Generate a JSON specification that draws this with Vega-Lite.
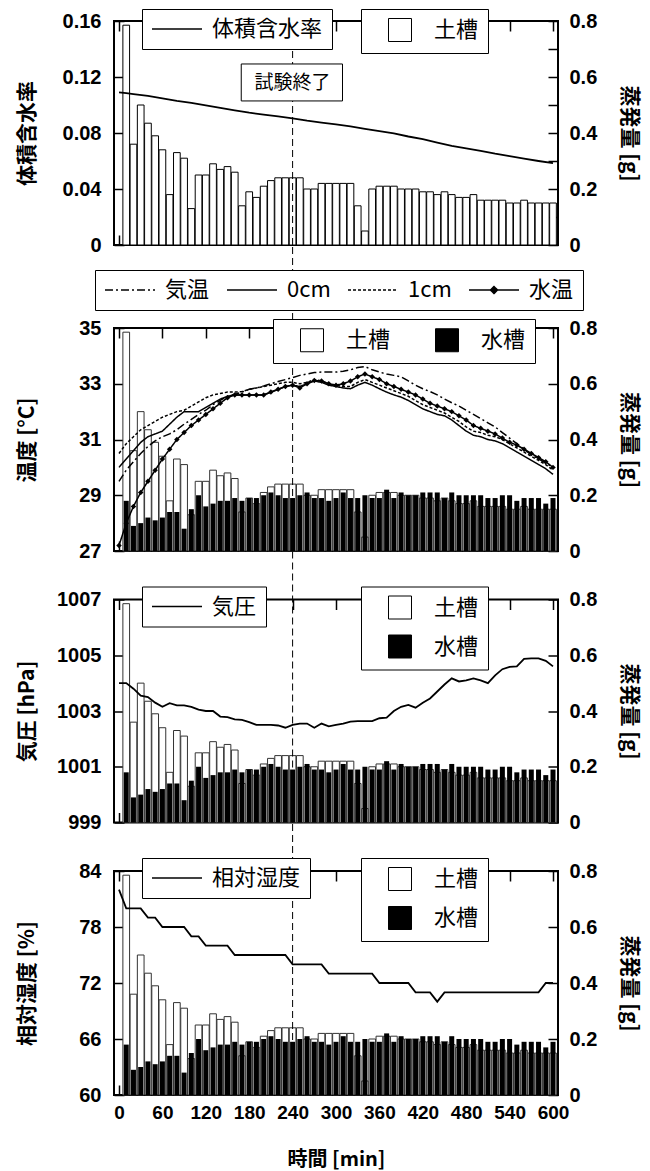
{
"$schema":"https://vega.github.io/schema/vega-lite/v6.json",
"padding":{"left":14,"top":7,"right":5,"bottom":0},
"datasets":{
"evap":[{"t":10,"soil":0.785,"water":0.18},{"t":20,"soil":0.36,"water":0.09},{"t":30,"soil":0.5,"water":0.1},{"t":40,"soil":0.435,"water":0.12},{"t":50,"soil":0.39,"water":0.11},{"t":60,"soil":0.34,"water":0.12},{"t":70,"soil":0.18,"water":0.14},{"t":80,"soil":0.33,"water":0.14},{"t":90,"soil":0.31,"water":0.08},{"t":100,"soil":0.13,"water":0.15},{"t":110,"soil":0.25,"water":0.2},{"t":120,"soil":0.25,"water":0.16},{"t":130,"soil":0.29,"water":0.17},{"t":140,"soil":0.27,"water":0.18},{"t":150,"soil":0.28,"water":0.18},{"t":160,"soil":0.26,"water":0.19},{"t":170,"soil":0.14,"water":0.18},{"t":180,"soil":0.19,"water":0.19},{"t":190,"soil":0.17,"water":0.19},{"t":200,"soil":0.21,"water":0.2},{"t":210,"soil":0.23,"water":0.21},{"t":220,"soil":0.24,"water":0.2},{"t":230,"soil":0.24,"water":0.19},{"t":240,"soil":0.24,"water":0.19},{"t":250,"soil":0.24,"water":0.2},{"t":260,"soil":0.2,"water":0.21},{"t":270,"soil":0.2,"water":0.19},{"t":280,"soil":0.22,"water":0.19},{"t":290,"soil":0.22,"water":0.18},{"t":300,"soil":0.22,"water":0.19},{"t":310,"soil":0.22,"water":0.21},{"t":320,"soil":0.22,"water":0.19},{"t":330,"soil":0.14,"water":0.19},{"t":340,"soil":0.05,"water":0.2},{"t":350,"soil":0.2,"water":0.19},{"t":360,"soil":0.21,"water":0.19},{"t":370,"soil":0.21,"water":0.22},{"t":380,"soil":0.21,"water":0.19},{"t":390,"soil":0.2,"water":0.21},{"t":400,"soil":0.2,"water":0.2},{"t":410,"soil":0.2,"water":0.2},{"t":420,"soil":0.19,"water":0.21},{"t":430,"soil":0.19,"water":0.21},{"t":440,"soil":0.18,"water":0.21},{"t":450,"soil":0.19,"water":0.19},{"t":460,"soil":0.18,"water":0.21},{"t":470,"soil":0.17,"water":0.2},{"t":480,"soil":0.17,"water":0.2},{"t":490,"soil":0.18,"water":0.2},{"t":500,"soil":0.16,"water":0.2},{"t":510,"soil":0.16,"water":0.19},{"t":520,"soil":0.16,"water":0.19},{"t":530,"soil":0.16,"water":0.2},{"t":540,"soil":0.15,"water":0.2},{"t":550,"soil":0.15,"water":0.18},{"t":560,"soil":0.16,"water":0.19},{"t":570,"soil":0.15,"water":0.19},{"t":580,"soil":0.15,"water":0.19},{"t":590,"soil":0.15,"water":0.17},{"t":600,"soil":0.15,"water":0.19}],
"vwc":[{"t":0,"v":0.109},{"t":10,"v":0.1085},{"t":20,"v":0.1078},{"t":40,"v":0.1065},{"t":60,"v":0.1048},{"t":80,"v":0.103},{"t":100,"v":0.1015},{"t":120,"v":0.0997},{"t":140,"v":0.0979},{"t":160,"v":0.0962},{"t":180,"v":0.0945},{"t":200,"v":0.0932},{"t":220,"v":0.0918},{"t":240,"v":0.0905},{"t":260,"v":0.0888},{"t":280,"v":0.0874},{"t":300,"v":0.0862},{"t":320,"v":0.0847},{"t":340,"v":0.083},{"t":360,"v":0.0813},{"t":380,"v":0.0798},{"t":400,"v":0.0775},{"t":420,"v":0.0756},{"t":440,"v":0.0732},{"t":460,"v":0.0708},{"t":480,"v":0.069},{"t":500,"v":0.0672},{"t":520,"v":0.0652},{"t":540,"v":0.0635},{"t":560,"v":0.0617},{"t":580,"v":0.06},{"t":600,"v":0.0585}],
"temps":[
{"t":0,"気温":29.5,"0cm":30.0,"1cm":30.5,"水温":27.2},
{"t":10,"気温":29.9,"0cm":30.3,"1cm":30.85,"水温":28.0},
{"t":20,"気温":30.2,"0cm":30.6,"1cm":31.1,"水温":28.6},
{"t":30,"気温":30.5,"0cm":30.9,"1cm":31.35,"水温":29.1},
{"t":40,"気温":30.75,"0cm":31.1,"1cm":31.5,"水温":29.5},
{"t":50,"気温":30.95,"0cm":31.2,"1cm":31.65,"水温":29.9},
{"t":60,"気温":31.1,"0cm":31.3,"1cm":31.8,"水温":30.3},
{"t":70,"気温":31.2,"0cm":31.55,"1cm":31.9,"水温":30.65},
{"t":80,"気温":31.35,"0cm":31.8,"1cm":32.0,"水温":31.0},
{"t":90,"気温":31.55,"0cm":32.0,"1cm":32.05,"水温":31.25},
{"t":100,"気温":31.72,"0cm":32.0,"1cm":32.2,"水温":31.5},
{"t":110,"気温":31.9,"0cm":32.0,"1cm":32.35,"水温":31.7},
{"t":120,"気温":32.05,"0cm":32.15,"1cm":32.5,"水温":31.9},
{"t":130,"気温":32.25,"0cm":32.3,"1cm":32.6,"水温":32.1},
{"t":140,"気温":32.4,"0cm":32.45,"1cm":32.65,"水温":32.3},
{"t":150,"気温":32.55,"0cm":32.55,"1cm":32.7,"水温":32.5},
{"t":160,"気温":32.62,"0cm":32.6,"1cm":32.7,"水温":32.6},
{"t":170,"気温":32.7,"0cm":32.6,"1cm":32.72,"水温":32.6},
{"t":180,"気温":32.8,"0cm":32.6,"1cm":32.8,"水温":32.6},
{"t":190,"気温":32.85,"0cm":32.6,"1cm":32.85,"水温":32.6},
{"t":200,"気温":32.92,"0cm":32.6,"1cm":32.9,"水温":32.6},
{"t":210,"気温":33.0,"0cm":32.7,"1cm":32.95,"水温":32.7},
{"t":220,"気温":33.08,"0cm":32.8,"1cm":33.0,"水温":32.8},
{"t":230,"気温":33.15,"0cm":32.9,"1cm":33.05,"水温":32.9},
{"t":240,"気温":33.22,"0cm":32.95,"1cm":33.05,"水温":32.95},
{"t":250,"気温":33.3,"0cm":32.9,"1cm":33.0,"水温":32.85},
{"t":260,"気温":33.35,"0cm":33.0,"1cm":33.05,"水温":33.0},
{"t":270,"気温":33.4,"0cm":33.1,"1cm":33.15,"水温":33.12},
{"t":280,"気温":33.42,"0cm":33.05,"1cm":33.1,"水温":33.1},
{"t":290,"気温":33.42,"0cm":32.95,"1cm":33.0,"水温":33.0},
{"t":300,"気温":33.42,"0cm":32.9,"1cm":32.95,"水温":32.95},
{"t":310,"気温":33.45,"0cm":32.85,"1cm":32.9,"水温":33.0},
{"t":320,"気温":33.5,"0cm":32.82,"1cm":32.9,"水温":33.1},
{"t":330,"気温":33.58,"0cm":32.95,"1cm":33.05,"水温":33.25},
{"t":340,"気温":33.62,"0cm":33.05,"1cm":33.15,"水温":33.35},
{"t":350,"気温":33.5,"0cm":32.95,"1cm":33.05,"水温":33.25},
{"t":360,"気温":33.42,"0cm":32.82,"1cm":32.95,"水温":33.15},
{"t":370,"気温":33.35,"0cm":32.7,"1cm":32.85,"水温":33.0},
{"t":380,"気温":33.3,"0cm":32.6,"1cm":32.75,"水温":32.9},
{"t":390,"気温":33.25,"0cm":32.52,"1cm":32.65,"水温":32.8},
{"t":400,"気温":33.1,"0cm":32.4,"1cm":32.55,"水温":32.7},
{"t":410,"気温":32.95,"0cm":32.25,"1cm":32.4,"水温":32.6},
{"t":420,"気温":32.82,"0cm":32.1,"1cm":32.25,"水温":32.45},
{"t":430,"気温":32.72,"0cm":32.0,"1cm":32.15,"水温":32.3},
{"t":440,"気温":32.6,"0cm":31.9,"1cm":32.05,"水温":32.2},
{"t":450,"気温":32.45,"0cm":31.85,"1cm":31.95,"水温":32.1},
{"t":460,"気温":32.32,"0cm":31.7,"1cm":31.8,"水温":32.0},
{"t":470,"気温":32.2,"0cm":31.5,"1cm":31.65,"水温":31.85},
{"t":480,"気温":32.05,"0cm":31.3,"1cm":31.45,"水温":31.7},
{"t":490,"気温":31.9,"0cm":31.15,"1cm":31.3,"水温":31.5},
{"t":500,"気温":31.75,"0cm":31.1,"1cm":31.25,"水温":31.4},
{"t":510,"気温":31.6,"0cm":31.0,"1cm":31.15,"水温":31.3},
{"t":520,"気温":31.45,"0cm":30.95,"1cm":31.1,"水温":31.2},
{"t":530,"気温":31.25,"0cm":30.85,"1cm":31.0,"水温":31.05},
{"t":540,"気温":31.05,"0cm":30.7,"1cm":30.85,"水温":30.9},
{"t":550,"気温":30.85,"0cm":30.55,"1cm":30.7,"水温":30.8},
{"t":560,"気温":30.65,"0cm":30.4,"1cm":30.55,"水温":30.65},
{"t":570,"気温":30.45,"0cm":30.25,"1cm":30.4,"水温":30.5},
{"t":580,"気温":30.3,"0cm":30.1,"1cm":30.25,"水温":30.35},
{"t":590,"気温":30.15,"0cm":29.95,"1cm":30.1,"水温":30.2},
{"t":600,"気温":30.0,"0cm":29.75,"1cm":29.9,"水温":30.0}],
"pres":[{"t":0,"p":1004.0},{"t":10,"p":1004.0},{"t":20,"p":1003.8},{"t":30,"p":1003.55},{"t":40,"p":1003.5},{"t":50,"p":1003.3},{"t":60,"p":1003.15},{"t":70,"p":1003.28},{"t":80,"p":1003.2},{"t":90,"p":1003.2},{"t":100,"p":1003.15},{"t":110,"p":1003.05},{"t":120,"p":1003.0},{"t":130,"p":1003.0},{"t":140,"p":1002.8},{"t":150,"p":1002.78},{"t":160,"p":1002.7},{"t":170,"p":1002.68},{"t":180,"p":1002.6},{"t":190,"p":1002.5},{"t":200,"p":1002.5},{"t":210,"p":1002.5},{"t":220,"p":1002.48},{"t":230,"p":1002.4},{"t":240,"p":1002.5},{"t":250,"p":1002.55},{"t":260,"p":1002.55},{"t":270,"p":1002.4},{"t":280,"p":1002.55},{"t":290,"p":1002.45},{"t":300,"p":1002.5},{"t":310,"p":1002.55},{"t":320,"p":1002.62},{"t":330,"p":1002.64},{"t":340,"p":1002.64},{"t":350,"p":1002.64},{"t":360,"p":1002.74},{"t":370,"p":1002.76},{"t":380,"p":1003.0},{"t":390,"p":1003.15},{"t":400,"p":1003.22},{"t":410,"p":1003.12},{"t":420,"p":1003.3},{"t":430,"p":1003.45},{"t":440,"p":1003.7},{"t":450,"p":1003.95},{"t":460,"p":1004.17},{"t":470,"p":1004.06},{"t":480,"p":1004.1},{"t":490,"p":1004.17},{"t":500,"p":1004.1},{"t":510,"p":1004.0},{"t":520,"p":1004.28},{"t":530,"p":1004.5},{"t":540,"p":1004.58},{"t":550,"p":1004.6},{"t":560,"p":1004.87},{"t":570,"p":1004.89},{"t":580,"p":1004.89},{"t":590,"p":1004.8},{"t":600,"p":1004.6}],
"rh":[{"t":0,"h":82},{"t":10,"h":80},{"t":20,"h":80},{"t":30,"h":80},{"t":40,"h":79},{"t":50,"h":79},{"t":60,"h":78},{"t":70,"h":78},{"t":80,"h":78},{"t":90,"h":78},{"t":100,"h":77},{"t":110,"h":77},{"t":120,"h":76},{"t":130,"h":76},{"t":140,"h":76},{"t":150,"h":76},{"t":160,"h":75},{"t":170,"h":75},{"t":180,"h":75},{"t":190,"h":75},{"t":200,"h":75},{"t":210,"h":75},{"t":220,"h":75},{"t":230,"h":75},{"t":240,"h":74},{"t":250,"h":74},{"t":260,"h":74},{"t":270,"h":74},{"t":280,"h":74},{"t":290,"h":73},{"t":300,"h":73},{"t":310,"h":73},{"t":320,"h":73},{"t":330,"h":73},{"t":340,"h":73},{"t":350,"h":73},{"t":360,"h":72},{"t":370,"h":72},{"t":380,"h":72},{"t":390,"h":72},{"t":400,"h":72},{"t":410,"h":71},{"t":420,"h":71},{"t":430,"h":71},{"t":440,"h":70},{"t":450,"h":71},{"t":460,"h":71},{"t":470,"h":71},{"t":480,"h":71},{"t":490,"h":71},{"t":500,"h":71},{"t":510,"h":71},{"t":520,"h":71},{"t":530,"h":71},{"t":540,"h":71},{"t":550,"h":71},{"t":560,"h":71},{"t":570,"h":71},{"t":580,"h":71},{"t":590,"h":72},{"t":600,"h":72}]
},
"bounds":"flush",
"spacing":83,
"resolve":{"scale":{"fill":"independent","stroke":"independent","shape":"independent","strokeDash":"independent"}},
"vconcat":[
{
"width":444,"height":224,
"layer":[
 {"data":{"name":"evap"},
  "mark":{"type":"bar","width":6.7,"stroke":"black","strokeWidth":1},
  "encoding":{
   "x":{"field":"t","type":"quantitative","scale":{"domain":[0,600],"nice":false},"axis":{"values":[0,60,120,180,240,300,360,420,480,540,600],"labels":false,"title":null}},
   "y":{"field":"soil","type":"quantitative","scale":{"domain":[0,0.8]},"axis":{"orient":"right","values":[0,0.1,0.2,0.3,0.4,0.5,0.6,0.7,0.8],"labelExpr":"round(datum.value*10)%2==0 ? format(datum.value,'.1~f') : ''","labelPadding":21,"title":"蒸発量 [g]","titleX":70,"titleBaseline":"middle","titleAngle":90}},
   "fill":{"datum":"土槽","scale":{"domain":["土槽"],"range":["white"]},"legend":{"title":null,"orient":"none","legendX":247,"legendY":-12,"zindex":1,"symbolType":"square","symbolSize":529,"symbolStrokeColor":"black","symbolStrokeWidth":1,"symbolOffset":18,"labelOffset":22,"padding":9,"labelExpr":"datum.label + '\u2002\u2009'"}}
  }},
 {"encoding":{"x":{"field":"t","type":"quantitative","scale":{"domain":[0,600],"nice":false},"axis":{"orient":"top","values":[0,60,120,180,240,300,360,420,480,540,600],"labels":false,"title":null}}},
  "layer":[
   {"data":{"name":"vwc"},"mark":{"type":"line","strokeWidth":1.8},
    "encoding":{"y":{"field":"v","type":"quantitative","scale":{"domain":[0,0.16]},"axis":{"orient":"left","values":[0,0.02,0.04,0.06,0.08,0.1,0.12,0.14,0.16],"labelExpr":"round(datum.value*50)%2==0 ? format(datum.value,'.2~f') : ''","labelPadding":23,"title":"体積含水率","titleX":-87,"titleBaseline":"middle"}},
     "stroke":{"datum":"体積含水率","scale":{"range":["black"]},"legend":{"title":null,"orient":"none","legendX":28,"legendY":-12,"zindex":1,"symbolType":"M-1,0H4","symbolSize":400,"symbolStrokeWidth":1.5,"symbolStrokeColor":"black","labelOffset":39,"padding":9,"labelExpr":"datum.label + '\u2009'"}}}},
   {"data":{"name":"evap"},"transform":[{"filter":"datum.t == 240"}],"mark":{"type":"rule","strokeDash":[7,4],"strokeWidth":1,"color":"black"},
    "encoding":{"x":{"datum":240},"y":{"datum":0,"scale":{"domain":[0,0.16]}},"y2":{"datum":0.1386}}},
   {"data":{"name":"evap"},"transform":[{"filter":"datum.t == 240"}],"mark":{"type":"rect","fill":"white","stroke":"black","strokeWidth":1},
    "encoding":{"x":{"datum":169},"x2":{"datum":309},"y":{"datum":0.1293,"scale":{"domain":[0,0.16]}},"y2":{"datum":0.1029}}},
   {"data":{"name":"evap"},"transform":[{"filter":"datum.t == 240"}],"mark":{"type":"text","font":"Noto Sans CJK JP","fontSize":19,"color":"black"},
    "encoding":{"x":{"datum":240},"y":{"datum":0.116,"scale":{"domain":[0,0.16]}},"text":{"value":"試験終了"}}}
  ]}
],
"resolve":{"scale":{"y":"independent"},"axis":{"x":"independent","y":"independent"}}
},
{
"bounds":"flush",
"spacing":48.5,
"resolve":{"scale":{"fill":"independent","stroke":"independent","shape":"independent","strokeDash":"independent"}},
"vconcat":[
{
"width":444,"height":223,
"layer":[
 {"data":{"name":"evap"},
  "encoding":{"x":{"field":"t","type":"quantitative","scale":{"domain":[0,600],"nice":false},"axis":{"values":[0,60,120,180,240,300,360,420,480,540,600],"labels":false,"title":null}}},
  "layer":[
   {"mark":{"type":"bar","width":6.7,"stroke":"#333","strokeWidth":1},
    "encoding":{"y":{"field":"soil","type":"quantitative","scale":{"domain":[0,0.8]},"axis":{"orient":"right","values":[0,0.1,0.2,0.3,0.4,0.5,0.6,0.7,0.8],"labelExpr":"round(datum.value*10)%2==0 ? format(datum.value,'.1~f') : ''","labelPadding":21,"title":"蒸発量 [g]","titleX":70,"titleBaseline":"middle","titleAngle":90}},
     "fill":{"datum":"土槽","scale":{"domain":["土槽","水槽"],"range":["white","black"]},"legend":{"title":null,"orient":"none","direction":"horizontal","legendX":159,"legendY":-9,"zindex":1,"symbolType":"square","symbolSize":529,"symbolStrokeColor":"black","symbolStrokeWidth":1,"symbolOffset":18,"labelOffset":22,"columnPadding":26,"padding":9}}}},
   {"mark":{"type":"bar","width":5,"color":"black"},
    "encoding":{"y":{"field":"water","type":"quantitative"},"fill":{"datum":"水槽"}}}
  ]},
 {"encoding":{"x":{"field":"t","type":"quantitative","scale":{"domain":[0,600],"nice":false},"axis":{"orient":"top","values":[0,60,120,180,240,300,360,420,480,540,600],"labels":false,"title":null}}},
  "layer":[
   {"data":{"name":"evap"},"transform":[{"filter":"datum.t == 240"}],"mark":{"type":"rule","strokeDash":[7,4],"strokeWidth":1,"color":"black"},
    "encoding":{"x":{"datum":240},"y":{"datum":27,"scale":{"domain":[27,35]}},"y2":{"datum":37.98}}},
   {"data":{"name":"temps"},"transform":[{"fold":["気温","0cm","1cm","水温"],"as":["series","temp"]}],
    "mark":{"type":"line","strokeWidth":1.5,"color":"black"},
    "encoding":{"y":{"field":"temp","type":"quantitative","scale":{"domain":[27,35]},"axis":{"orient":"left","values":[27,28,29,30,31,32,33,34,35],"labelExpr":"datum.value%2==1 ? datum.label : ''","labelPadding":23,"title":"温度 [°C]","titleX":-87,"titleBaseline":"middle"}},
     "strokeDash":{"field":"series","type":"nominal","scale":{"domain":["気温","0cm","1cm","水温"],"range":[[8,3,2,3],[1,0],[3,2],[1,0]]},
      "legend":{"title":null,"orient":"none","direction":"horizontal","legendX":-19,"legendY":-58,"zindex":1,"symbolType":"M-1,0H4","symbolSize":400,"symbolStrokeWidth":1.5,"symbolStrokeColor":"black","labelOffset":39,"columnPadding":14,"padding":9,
       "encode":{"symbols":{"update":{"shape":{"signal":"datum.value == '水温' ? 'M-1,0H4M1.5,-0.35L1.85,0L1.5,0.35L1.15,0Z' : 'M-1,0H4'"},"fill":{"value":"black"},"stroke":{"value":"black"},"strokeWidth":{"value":1.5},"opacity":{"value":1}}}}}}}},
   {"data":{"name":"temps"},"mark":{"type":"point","shape":"diamond","filled":true,"color":"black","size":30,"opacity":1},
    "encoding":{"y":{"field":"水温","type":"quantitative"}}}
  ]}
],
"resolve":{"scale":{"y":"independent"},"axis":{"x":"independent","y":"independent"}}
},
{
"width":444,"height":223,
"layer":[
 {"data":{"name":"evap"},
  "encoding":{"x":{"field":"t","type":"quantitative","scale":{"domain":[0,600],"nice":false},"axis":{"values":[0,60,120,180,240,300,360,420,480,540,600],"labels":false,"title":null}}},
  "layer":[
   {"mark":{"type":"bar","width":6.7,"stroke":"#333","strokeWidth":1},
    "encoding":{"y":{"field":"soil","type":"quantitative","scale":{"domain":[0,0.8]},"axis":{"orient":"right","values":[0,0.1,0.2,0.3,0.4,0.5,0.6,0.7,0.8],"labelExpr":"round(datum.value*10)%2==0 ? format(datum.value,'.1~f') : ''","labelPadding":21,"title":"蒸発量 [g]","titleX":70,"titleBaseline":"middle","titleAngle":90}},
     "fill":{"datum":"土槽","scale":{"domain":["土槽","水槽"],"range":["white","black"]},"legend":{"title":null,"orient":"none","direction":"vertical","legendX":247,"legendY":-13,"zindex":1,"symbolType":"square","symbolSize":529,"symbolStrokeColor":"black","symbolStrokeWidth":1,"symbolOffset":18,"labelOffset":22,"rowPadding":11,"padding":9,"labelExpr":"datum.label + '\u2009'"}}}},
   {"mark":{"type":"bar","width":5,"color":"black"},
    "encoding":{"y":{"field":"water","type":"quantitative"},"fill":{"datum":"水槽"}}}
  ]},
 {"encoding":{"x":{"field":"t","type":"quantitative","scale":{"domain":[0,600],"nice":false},"axis":{"orient":"top","values":[0,60,120,180,240,300,360,420,480,540,600],"labels":false,"title":null}}},
  "layer":[
   {"data":{"name":"evap"},"transform":[{"filter":"datum.t == 240"}],"mark":{"type":"rule","strokeDash":[7,4],"strokeWidth":1,"color":"black"},
    "encoding":{"x":{"datum":240},"y":{"datum":999,"scale":{"domain":[999,1007]}},"y2":{"datum":1008.74}}},
   {"data":{"name":"pres"},"mark":{"type":"line","strokeWidth":1.8},
    "encoding":{"y":{"field":"p","type":"quantitative","scale":{"domain":[999,1007]},"axis":{"orient":"left","values":[999,1000,1001,1002,1003,1004,1005,1006,1007],"format":"d","labelExpr":"datum.value%2==1 ? datum.label : ''","labelPadding":23,"title":"気圧 [hPa]","titleX":-87,"titleBaseline":"middle"}},
     "stroke":{"datum":"気圧","scale":{"range":["black"]},"legend":{"title":null,"orient":"none","legendX":28,"legendY":-13,"zindex":1,"symbolType":"M-1,0H4","symbolSize":400,"symbolStrokeWidth":1.5,"symbolStrokeColor":"black","labelOffset":39,"padding":9,"labelExpr":"datum.label + '\u2009'"}}}}
  ]}
],
"resolve":{"scale":{"y":"independent"},"axis":{"x":"independent","y":"independent"}}
},
{
"width":444,"height":224,
"layer":[
 {"data":{"name":"evap"},
  "encoding":{"x":{"field":"t","type":"quantitative","scale":{"domain":[0,600],"nice":false},"axis":{"values":[0,60,120,180,240,300,360,420,480,540,600],"labels":true,"labelFontSize":19,"labelPadding":18,"title":"時間 [min]","titlePadding":27,"titleFontSize":20}}},
  "layer":[
   {"mark":{"type":"bar","width":6.7,"stroke":"#333","strokeWidth":1},
    "encoding":{"y":{"field":"soil","type":"quantitative","scale":{"domain":[0,0.8]},"axis":{"orient":"right","values":[0,0.1,0.2,0.3,0.4,0.5,0.6,0.7,0.8],"labelExpr":"round(datum.value*10)%2==0 ? format(datum.value,'.1~f') : ''","labelPadding":21,"title":"蒸発量 [g]","titleX":70,"titleBaseline":"middle","titleAngle":90}},
     "fill":{"datum":"土槽","scale":{"domain":["土槽","水槽"],"range":["white","black"]},"legend":{"title":null,"orient":"none","direction":"vertical","legendX":247,"legendY":-13,"zindex":1,"symbolType":"square","symbolSize":529,"symbolStrokeColor":"black","symbolStrokeWidth":1,"symbolOffset":18,"labelOffset":22,"rowPadding":11,"padding":9,"labelExpr":"datum.label + '\u2009'"}}}},
   {"mark":{"type":"bar","width":5,"color":"black"},
    "encoding":{"y":{"field":"water","type":"quantitative"},"fill":{"datum":"水槽"}}}
  ]},
 {"encoding":{"x":{"field":"t","type":"quantitative","scale":{"domain":[0,600],"nice":false},"axis":{"orient":"top","values":[0,60,120,180,240,300,360,420,480,540,600],"labels":false,"title":null}}},
  "layer":[
   {"data":{"name":"evap"},"transform":[{"filter":"datum.t == 240"}],"mark":{"type":"rule","strokeDash":[7,4],"strokeWidth":1,"color":"black"},
    "encoding":{"x":{"datum":240},"y":{"datum":60,"scale":{"domain":[60,84]}},"y2":{"datum":89.14}}},
   {"data":{"name":"rh"},"mark":{"type":"line","strokeWidth":1.8},
    "encoding":{"y":{"field":"h","type":"quantitative","scale":{"domain":[60,84]},"axis":{"orient":"left","values":[60,63,66,69,72,75,78,81,84],"labelExpr":"(datum.value-60)%6==0 ? datum.label : ''","labelPadding":23,"title":"相対湿度 [%]","titleX":-87,"titleBaseline":"middle"}},
     "stroke":{"datum":"相対湿度","scale":{"range":["black"]},"legend":{"title":null,"orient":"none","legendX":28,"legendY":-13,"zindex":1,"symbolType":"M-1,0H4","symbolSize":400,"symbolStrokeWidth":1.5,"symbolStrokeColor":"black","labelOffset":39,"padding":9,"labelExpr":"datum.label + '\u2009'"}}}}
  ]}
],
"resolve":{"scale":{"y":"independent"},"axis":{"x":"independent","y":"independent"}}
}
]}
],
"config":{
 "font":"Noto Sans CJK JP",
 "view":{"stroke":"black","strokeWidth":2},
 "axis":{"domain":false,"grid":false,"tickSize":-10,"tickWidth":1.5,"tickColor":"black","labelColor":"black","labelFont":"Liberation Sans","labelFontWeight":"bold","labelFontSize":20,"labelFlush":false,"labelOverlap":false,"titleFont":"Noto Sans CJK JP","titleFontWeight":"bold","titleFontSize":21,"titleColor":"black"},
 "legend":{"labelFont":"Noto Sans CJK JP","labelFontSize":22,"labelColor":"black","fillColor":"white","strokeColor":"black"}
}
}
